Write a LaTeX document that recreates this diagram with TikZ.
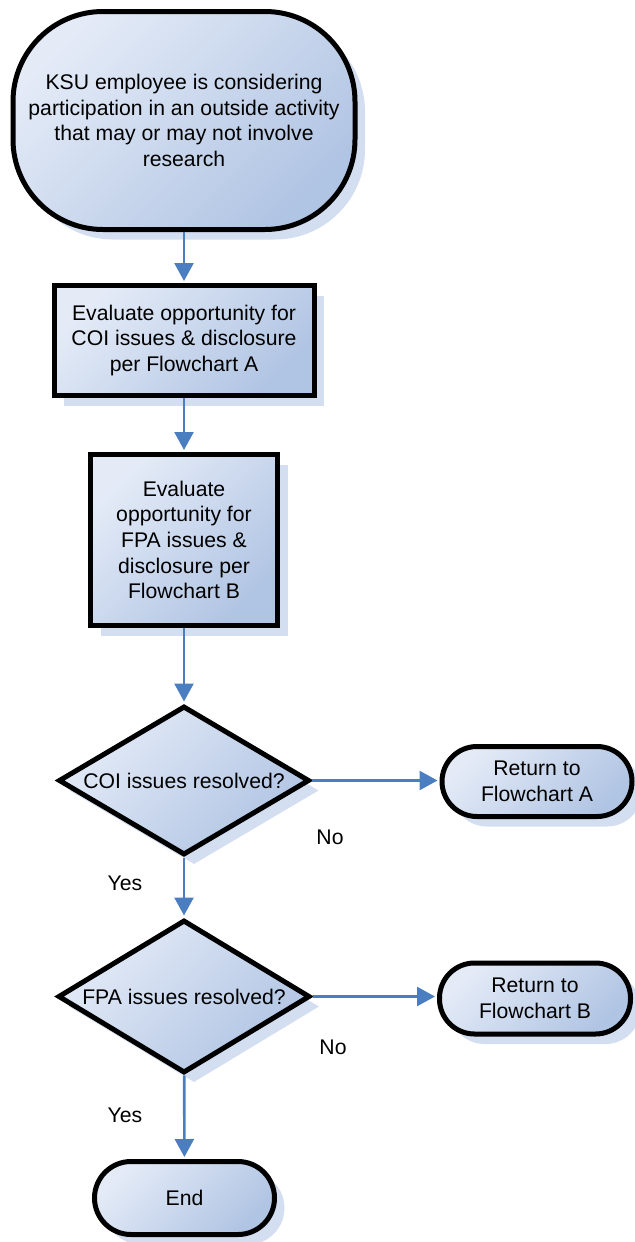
\documentclass[tikz,border=0pt]{standalone}
\usepackage{fontspec}
\setmainfont{Liberation Sans}
\definecolor{boxlight}{RGB}{228, 235, 247}
\definecolor{boxdark}{RGB}{176, 196, 227}
\definecolor{shadowblue}{RGB}{212, 222, 241}
\definecolor{arrowblue}{RGB}{74, 126, 193}
\usepackage{tikz}
\usetikzlibrary{shapes.geometric, arrows.meta, shadows}

\tikzset{
  basebox/.style={draw=black, line width=2.5pt, top color=boxlight, bottom color=boxdark, shading angle=45,
    drop shadow={shadow xshift=5pt, shadow yshift=-5pt, fill=shadowblue, opacity=1},
    align=center, inner sep=0pt, font=\fontsize{10.6}{12.8}\selectfont},
  termbox/.style={basebox, rectangle, rounded corners=#1},
  termbox/.default=17.5pt,
  procbox/.style={basebox, rectangle},
  decbox/.style={basebox, diamond, aspect=1.7},
  flowarrow/.style={-{Triangle[length=9pt, width=9.5pt]}, line width=1.3pt, arrowblue, shorten >=1pt},
  lbl/.style={font=\fontsize{10.6}{12.8}\selectfont}
}

\begin{document}
\begin{tikzpicture}[x=0.5pt, y=-0.5pt]
  \useasboundingbox (0,0) rectangle (635,1242);

  % Start
  \node[termbox=45pt, minimum width=171pt, minimum height=109pt] (start) at (184, 120.5) {
    KSU employee is considering\\
    participation in an outside activity\\
    that may or may not involve\\
    research};

  % Evaluate steps
  \node[procbox, minimum width=130pt, minimum height=55pt] (evalcoi) at (184, 340.5) {
    Evaluate opportunity for\\
    COI issues \& disclosure\\
    per Flowchart A};
  \node[procbox, minimum width=93.5pt, minimum height=85.5pt] (evalfpa) at (184, 540) {
    Evaluate\\
    opportunity for\\
    FPA issues \&\\
    disclosure per\\
    Flowchart B};

  % Decisions
  \node[decbox, minimum width=125.5pt, minimum height=74.5pt] (coiq) at (184, 780.5) {COI issues resolved?};
  \node[decbox, minimum width=126pt, minimum height=76.5pt] (fpaq) at (184, 996.5) {FPA issues resolved?};

  % Returns and end
  \node[termbox, minimum width=95pt, minimum height=35pt] (returna) at (537, 781.5) {Return to\\Flowchart A};
  \node[termbox, minimum width=95.5pt, minimum height=35.5pt] (returnb) at (535, 998.5) {Return to\\Flowchart B};
  \node[termbox=18.25pt, minimum width=90pt, minimum height=36.5pt] (endnode) at (184.5, 1198) {End};

  % Labels
  \node[lbl] (no1) at (330, 837) {No};
  \node[lbl] (yes1) at (125, 883) {Yes};
  \node[lbl] (no2) at (333, 1047) {No};
  \node[lbl] (yes2) at (125, 1115) {Yes};

  % Arrows
  \draw[flowarrow] (start) -- (evalcoi);
  \draw[flowarrow] (evalcoi) -- (evalfpa);
  \draw[flowarrow] (evalfpa) -- (coiq);
  \draw[flowarrow] (coiq.east) -- (coiq.east -| returna.west);
  \draw[flowarrow] (coiq) -- (fpaq);
  \draw[flowarrow] (fpaq.east) -- (fpaq.east -| returnb.west);
  \draw[flowarrow] (fpaq) -- (endnode);
\end{tikzpicture}
\end{document}
